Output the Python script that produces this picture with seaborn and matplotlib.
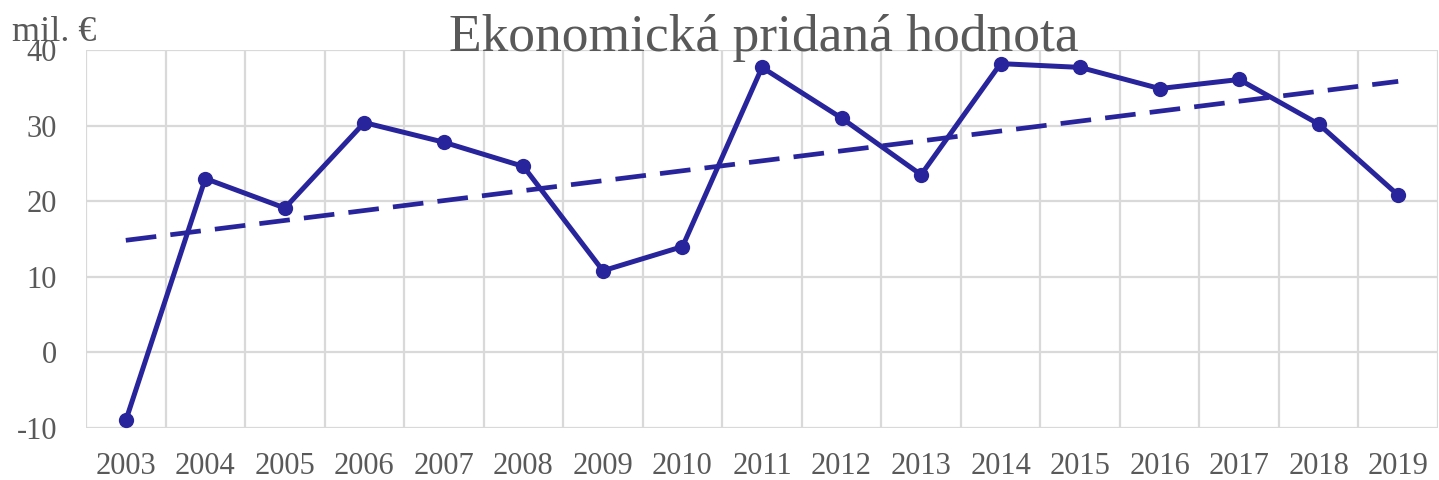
import numpy as np
import pandas as pd
import matplotlib.pyplot as plt
import seaborn as sns

years = ['2003', '2004', '2005', '2006', '2007', '2008', '2009', '2010', '2011',
         '2012', '2013', '2014', '2015', '2016', '2017', '2018', '2019']
values = [-9.0, 23.0, 19.1, 30.4, 27.8, 24.6, 10.8, 14.0, 37.7,
          31.0, 23.5, 38.2, 37.7, 34.9, 36.1, 30.2, 20.8]

df = pd.DataFrame({'year': years, 'value': values})
df['pos'] = np.arange(len(df))

# linear trend
k, q = np.polyfit(df['pos'], df['value'], 1)
df['trend'] = k * df['pos'] + q

line_color = '#28249b'
grid_color = '#d9d9d9'
text_color = '#595959'

sns.set_style('white')
plt.rcParams['font.family'] = ['Liberation Serif', 'DejaVu Serif']
plt.rcParams['axes.unicode_minus'] = False

fig = plt.figure(figsize=(14.39, 4.8), dpi=100)
ax = fig.add_axes([0.0598, 0.1083, 0.9395, 0.7875])

sns.lineplot(data=df, x='pos', y='trend', color=line_color, lw=3.4,
             dashes=False, ax=ax, zorder=3)
ax.lines[-1].set_dashes([6.5, 3])
sns.lineplot(data=df, x='pos', y='value', color=line_color, lw=3.6,
             marker='o', markersize=11, markeredgewidth=0, ax=ax, zorder=4)

ax.set_xlim(-0.5, len(years) - 0.5)
ax.set_ylim(-10, 40)
ax.set_yticks(range(-10, 41, 10))
ax.set_xticks(df['pos'])
ax.set_xticklabels(years)
ax.set_xticks(np.arange(-0.5, len(years), 1), minor=True)
ax.grid(False)
ax.grid(True, which='minor', axis='x', color=grid_color, lw=1.6)
ax.grid(True, which='major', axis='y', color=grid_color, lw=1.6)
ax.tick_params(which='both', length=0)
ax.tick_params(axis='x', labelsize=22, labelcolor=text_color, pad=17)
ax.tick_params(axis='y', labelsize=22, labelcolor=text_color, pad=21)
for s in ax.spines.values():
    s.set_visible(False)
ax.set_xlabel('')
ax.set_ylabel('')

fig.text(0.0083, 0.915, 'mil. €', fontsize=26, color=text_color, ha='left', va='baseline')
fig.text(0.531, 0.893, 'Ekonomická pridaná hodnota', fontsize=38.5, color=text_color,
         ha='center', va='baseline')

fig.savefig('out.png', dpi=100)
